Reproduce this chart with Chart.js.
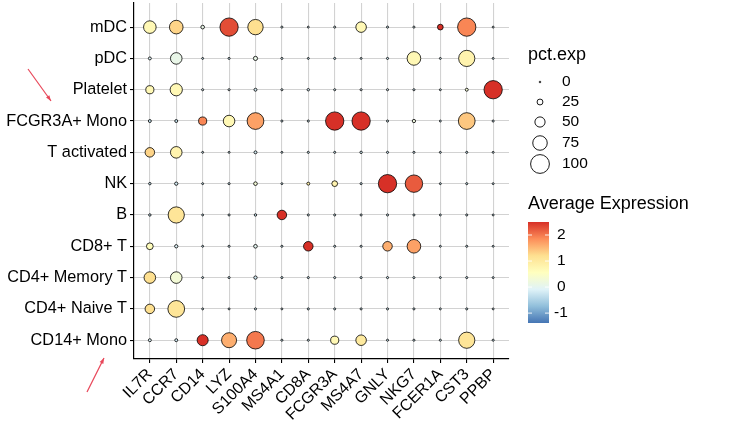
<!DOCTYPE html>
<html>
<head>
<meta charset="utf-8">
<script src="https://cdn.jsdelivr.net/npm/chart.js@4/dist/chart.umd.min.js"></script>
<style>
html,body{margin:0;padding:0;background:#fff;}
canvas{display:block;}
</style>
</head>
<body>
<canvas id="c" width="734" height="426"></canvas>
<script>
const genes = ['IL7R','CCR7','CD14','LYZ','S100A4','MS4A1','CD8A','FCGR3A','MS4A7','GNLY','NKG7','FCER1A','CST3','PPBP'];
const cellTypes = ['mDC','pDC','Platelet','FCGR3A+ Mono','T activated','NK','B','CD8+ T','CD4+ Memory T','CD4+ Naive T','CD14+ Mono'];

// percent expressed (rows = cell types, cols = genes)
const pctExp = [
  [64, 70, 12, 97, 80,  3,  2,  3, 52,  3,  3, 24, 97,  2],
  [ 8, 58,  2,  3, 15,  3,  2,  3,  2,  3, 70,  2, 85,  2],
  [38, 62,  3,  3,  8,  3,  5,  3,  3,  3,  3,  2,  8, 97],
  [ 8,  8, 38, 58, 88,  3,  3, 97, 97,  3, 10,  2, 88,  3],
  [46, 58,  2,  2,  8,  2,  3,  3,  5,  3,  3,  2,  3,  2],
  [ 5, 10,  2,  3, 12,  2,  8, 24,  3, 97, 92,  2,  3,  2],
  [ 5, 85,  2,  3,  5, 46,  3,  3,  3,  3,  3,  2,  3,  2],
  [30, 10,  2,  3, 12,  3, 46,  3,  3, 46, 70,  2,  3,  2],
  [58, 58,  2,  3, 10,  3,  3,  3,  3,  3,  3,  2,  3,  2],
  [46, 88,  2,  2,  3,  2,  3,  3,  3,  3,  3,  2,  3,  2],
  [ 8,  8, 55, 78, 93,  3,  3, 38, 52,  3,  3,  3, 85,  3]
];
// average expression (scaled)
const avgExp = [
  [ 0.7, 1.3, 0.1, 2.3, 1.2,-0.2,-0.3,-0.2, 0.7,-0.3,-0.2, 2.5, 1.9,-0.3],
  [-0.1, 0.1,-0.3,-0.3, 0.1,-0.2,-0.3,-0.3,-0.3,-0.3, 0.7,-0.3, 0.8,-0.3],
  [ 0.7, 0.7,-0.2,-0.2,-0.2,-0.2,-0.2,-0.2,-0.2,-0.2,-0.3,-0.3, 0.3, 2.5],
  [-0.3,-0.3, 1.9, 0.7, 1.7,-0.3,-0.3, 2.5, 2.5,-0.3, 0.2,-0.3, 1.4,-0.3],
  [ 1.3, 0.8,-0.3,-0.3,-0.2,-0.3,-0.3,-0.3,-0.2,-0.3,-0.3,-0.3,-0.3,-0.3],
  [-0.3,-0.2,-0.3,-0.3, 0.3,-0.3, 0.9, 0.8,-0.3, 2.5, 2.2,-0.3,-0.3,-0.3],
  [-0.3, 1.1,-0.3,-0.3,-0.3, 2.5,-0.3,-0.3,-0.3,-0.3,-0.3,-0.3,-0.3,-0.3],
  [ 0.6,-0.1,-0.3,-0.3, 0.0,-0.3, 2.5,-0.3,-0.3, 1.6, 1.7,-0.3,-0.3,-0.3],
  [ 1.2, 0.3,-0.3,-0.3,-0.2,-0.3,-0.3,-0.3,-0.3,-0.3,-0.3,-0.3,-0.3,-0.3],
  [ 1.2, 1.1,-0.3,-0.3,-0.3,-0.3,-0.3,-0.3,-0.3,-0.3,-0.3,-0.3,-0.3,-0.3],
  [-0.1,-0.2, 2.5, 1.6, 2.0,-0.3,-0.3, 0.7, 1.0,-0.3,-0.3,-0.3, 1.1,-0.3]
];
const sizeBreaks = [0, 25, 50, 75, 100];
const colorBreaks = [2, 1, 0, -1];
const colorRange = [-1.38, 2.5];
const palette = ['#4575B4','#91BFDB','#E0F3F8','#FFFFBF','#FEE090','#FC8D59','#D73027'];

function radius(p){ return 0.8 + 8.6 * p / 100; }
function hex2rgb(h){ return [parseInt(h.slice(1,3),16),parseInt(h.slice(3,5),16),parseInt(h.slice(5,7),16)]; }
function colorFor(v){
  let t = (v - colorRange[0]) / (colorRange[1] - colorRange[0]);
  t = Math.min(1, Math.max(0, t));
  const s = t * (palette.length - 1);
  const i = Math.min(palette.length - 2, Math.floor(s));
  const f = s - i;
  const a = hex2rgb(palette[i]), b = hex2rgb(palette[i+1]);
  const c = a.map((x,k)=>Math.round(x + (b[k]-x)*f));
  return `rgb(${c[0]},${c[1]},${c[2]})`;
}

const points = [];
cellTypes.forEach((ct, i) => {
  genes.forEach((g, j) => {
    points.push({x: j, y: i, r: radius(pctExp[i][j]), v: avgExp[i][j]});
  });
});

const FONT = '"Liberation Sans", Arial, Helvetica, sans-serif';

const overlay = {
  id: 'overlay',
  afterDraw(chart){
    const ctx = chart.ctx;
    ctx.save();
    ctx.fillStyle = '#000';
    ctx.font = `18px ${FONT}`;
    ctx.textBaseline = 'middle';
    ctx.textAlign = 'left';
    ctx.fillText('pct.exp', 528, 55);
    const ys = [82, 102, 122, 143, 164];
    ctx.font = `15.5px ${FONT}`;
    sizeBreaks.forEach((b, k) => {
      ctx.beginPath();
      ctx.arc(540, ys[k], radius(b), 0, Math.PI*2);
      ctx.fillStyle = '#fff';
      ctx.fill();
      ctx.lineWidth = 0.9;
      ctx.strokeStyle = '#000';
      ctx.stroke();
      ctx.fillStyle = '#000';
      ctx.fillText(String(b), 562, ys[k]);
    });
    ctx.font = `18px ${FONT}`;
    ctx.fillText('Average Expression', 528, 204);
    const bx = 528, bw = 21, btop = 222, bbot = 323;
    const grad = ctx.createLinearGradient(0, bbot, 0, btop);
    palette.forEach((c, k) => grad.addColorStop(k/(palette.length-1), c));
    ctx.fillStyle = grad;
    ctx.fillRect(bx, btop, bw, bbot - btop);
    ctx.font = `15.5px ${FONT}`;
    colorBreaks.forEach(v => {
      const y = bbot - (v - colorRange[0]) / (colorRange[1]-colorRange[0]) * (bbot - btop);
      ctx.strokeStyle = 'rgba(255,255,255,0.9)';
      ctx.lineWidth = 1;
      ctx.beginPath();
      ctx.moveTo(bx, y); ctx.lineTo(bx+4, y);
      ctx.moveTo(bx+bw-4, y); ctx.lineTo(bx+bw, y);
      ctx.stroke();
      ctx.fillStyle = '#000';
      ctx.fillText(String(v), v < 0 ? 554 : 557, y);
    });
    function arrow(x1,y1,x2,y2){
      ctx.strokeStyle = '#E8485A';
      ctx.fillStyle = '#E8485A';
      ctx.lineWidth = 1.2;
      ctx.beginPath(); ctx.moveTo(x1,y1); ctx.lineTo(x2,y2); ctx.stroke();
      const a = Math.atan2(y2-y1, x2-x1), L = 6;
      ctx.beginPath();
      ctx.moveTo(x2,y2);
      ctx.lineTo(x2 - L*Math.cos(a-0.35), y2 - L*Math.sin(a-0.35));
      ctx.lineTo(x2 - L*Math.cos(a+0.35), y2 - L*Math.sin(a+0.35));
      ctx.closePath(); ctx.fill();
    }
    arrow(28, 69, 51, 101);
    arrow(87, 392, 104, 358);
    ctx.restore();
  }
};

new Chart(document.getElementById('c'), {
  type: 'bubble',
  data: {
    datasets: [{
      data: points,
      backgroundColor: ctx => colorFor(ctx.raw ? ctx.raw.v : 0),
      borderColor: '#000',
      borderWidth: 0.8,
      clip: false
    }]
  },
  options: {
    responsive: false,
    animation: false,
    devicePixelRatio: 1,
    events: [],
    layout: { autoPadding: false, padding: { top: 3, right: 225, left: 0, bottom: 0 } },
    plugins: { legend: { display: false }, tooltip: { enabled: false } },
    scales: {
      x: {
        type: 'linear', min: -0.6, max: genes.length - 0.4,
        afterBuildTicks: s => { s.ticks = genes.map((g, i) => ({ value: i })); },
        afterFit: s => { s.height = 67; s.paddingLeft = 0; s.paddingRight = 0; },
        grid: { color: '#d2d2d2', lineWidth: 1.1, tickColor: '#000', tickLength: 4, drawTicks: true },
        border: { color: '#000', width: 1.2 },
        ticks: {
          autoSkip: false, maxRotation: 45, minRotation: 45, padding: 2,
          color: '#000', font: { family: FONT, size: 16 },
          callback: v => genes[v]
        }
      },
      y: {
        type: 'linear', reverse: true, min: -0.77, max: cellTypes.length - 0.4,
        afterBuildTicks: s => { s.ticks = cellTypes.map((c, i) => ({ value: i })); },
        afterFit: s => { s.width = 134; s.paddingTop = 0; s.paddingBottom = 0; },
        grid: { color: '#d2d2d2', lineWidth: 1.1, tickColor: '#000', tickLength: 4, drawTicks: true },
        border: { color: '#000', width: 1.2 },
        ticks: {
          autoSkip: false, padding: 3,
          color: '#000', font: { family: FONT, size: 16.3 },
          callback: v => cellTypes[v]
        }
      }
    }
  },
  plugins: [overlay]
});
</script>
</body>
</html>
